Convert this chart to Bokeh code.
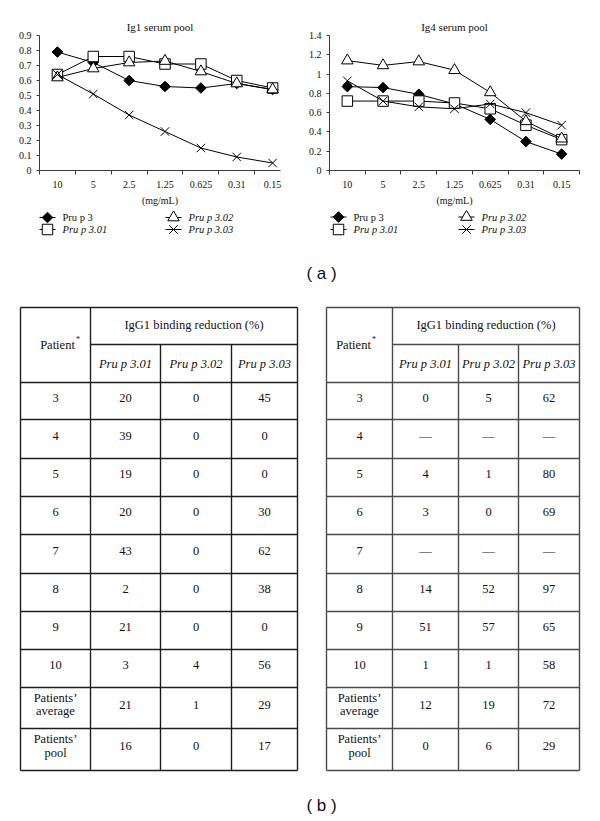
import numpy as np
from bokeh.plotting import figure
from bokeh.models import Range1d, FixedTicker
from bokeh.layouts import column, row
from bokeh.embed import file_html
from bokeh.resources import INLINE
from bokeh.core.properties import value

# ---------------- data ----------------
concentrations = ["10", "5", "2.5", "1.25", "0.625", "0.31", "0.15"]
series_names = ["Pru p 3", "Pru p 3.01", "Pru p 3.02", "Pru p 3.03"]

ig1_pru_p_3 = [0.79, 0.72, 0.60, 0.56, 0.55, 0.58, 0.54]
ig1_pru_p_3_01 = [0.64, 0.76, 0.76, 0.71, 0.71, 0.60, 0.55]
ig1_pru_p_3_02 = [0.62, 0.68, 0.72, 0.73, 0.66, 0.58, 0.54]
ig1_pru_p_3_03 = [0.64, 0.51, 0.37, 0.26, 0.15, 0.09, 0.05]

ig4_pru_p_3 = [0.87, 0.86, 0.79, 0.69, 0.53, 0.30, 0.17]
ig4_pru_p_3_01 = [0.72, 0.72, 0.72, 0.70, 0.64, 0.47, 0.32]
ig4_pru_p_3_02 = [1.14, 1.09, 1.13, 1.04, 0.81, 0.51, 0.33]
ig4_pru_p_3_03 = [0.93, 0.72, 0.66, 0.64, 0.69, 0.60, 0.47]

ig1_y_ticks = [0, 0.1, 0.2, 0.3, 0.4, 0.5, 0.6, 0.7, 0.8, 0.9]
ig1_y_labels = ["0", "0.1", "0.2", "0.3", "0.4", "0.5", "0.6", "0.7", "0.8", "0.9"]
ig4_y_ticks = [0, 0.2, 0.4, 0.6, 0.8, 1, 1.2, 1.4]
ig4_y_labels = ["0", "0.2", "0.4", "0.6", "0.8", "1", "1.2", "1.4"]

table_header = "IgG1 binding reduction (%)"
table_columns = ["Pru p 3.01", "Pru p 3.02", "Pru p 3.03"]
patients = ["3", "4", "5", "6", "7", "8", "9", "10",
            "Patients\u2019\naverage", "Patients\u2019\npool"]

left_pru_p_3_01 = [20, 39, 19, 20, 43, 2, 21, 3, 21, 16]
left_pru_p_3_02 = [0, 0, 0, 0, 0, 0, 0, 4, 1, 0]
left_pru_p_3_03 = [45, 0, 0, 30, 62, 38, 0, 56, 29, 17]

right_pru_p_3_01 = [0, None, 4, 3, None, 14, 51, 1, 12, 0]
right_pru_p_3_02 = [5, None, 1, 0, None, 52, 57, 1, 19, 6]
right_pru_p_3_03 = [62, None, 80, 69, None, 97, 65, 58, 72, 29]

# ---------------- style ----------------
SERIF = "Liberation Serif"
SANS = "Liberation Sans"
AX = "#3a3a3a"
TXT = "#111111"

marker_styles = [
    dict(marker="square", angle=np.pi / 4, size=7.5, fill_color="black", line_color="black"),
    dict(marker="square", size=10.5, fill_color="white", line_color="black"),
    dict(marker="triangle", size=11.5, fill_color="white", line_color="black"),
    dict(marker="x", size=12, fill_color=None, line_color="black"),
]
legend_italic = [False, True, True, True]


def blank_fig(width, height, x_end, y_top, y_bottom):
    f = figure(width=width, height=height, x_range=Range1d(0, x_end),
               y_range=Range1d(y_bottom, y_top),
               output_backend="svg", toolbar_location=None,
               x_axis_location=None, y_axis_location=None,
               min_border_left=0, min_border_right=0, min_border_top=0, min_border_bottom=0)
    f.outline_line_color = None
    f.xgrid.visible = False
    f.ygrid.visible = False
    return f


def make_chart(title, series, y_end, y_ticks, y_labels, x_end, width, borders):
    bl, br, bt, bb = borders
    p = figure(width=width, height=210, x_range=Range1d(0, x_end), y_range=Range1d(0, y_end),
               output_backend="svg", toolbar_location=None,
               min_border_left=bl, min_border_right=br, min_border_top=bt, min_border_bottom=bb)
    p.outline_line_color = None
    p.xgrid.visible = False
    p.ygrid.visible = False
    p.title.text = title
    p.title.align = "center"
    p.title.text_font = SERIF
    p.title.text_font_style = "normal"
    p.title.text_font_size = "11px"
    p.title.text_color = TXT
    p.title.standoff = 5

    xs = [i + 0.5 for i in range(len(concentrations))]
    p.xaxis.ticker = FixedTicker(ticks=xs, minor_ticks=list(range(len(concentrations) + 1)))
    p.xaxis.major_label_overrides = {x: c for x, c in zip(xs, concentrations)}
    p.xaxis.major_tick_out = 0
    p.xaxis.major_tick_in = 0
    p.xaxis.minor_tick_out = 4
    p.xaxis.minor_tick_in = 0
    p.xaxis.minor_tick_line_color = AX
    p.xaxis.major_label_standoff = 6
    p.xaxis.axis_label = "(mg/mL)"
    p.xaxis.axis_label_standoff = 4

    p.yaxis.ticker = FixedTicker(ticks=y_ticks)
    p.yaxis.major_label_overrides = {t: l for t, l in zip(y_ticks, y_labels)}
    p.yaxis.major_tick_out = 3
    p.yaxis.major_tick_in = 0
    p.yaxis.minor_tick_out = 0
    p.yaxis.minor_tick_in = 0
    p.yaxis.major_label_standoff = 5

    for ax in (p.xaxis, p.yaxis):
        ax.axis_line_color = AX
        ax.major_tick_line_color = AX
        ax.major_label_text_font = SERIF
        ax.major_label_text_font_size = "10px"
        ax.major_label_text_color = TXT
        ax.axis_label_text_font = SERIF
        ax.axis_label_text_font_size = "10px"
        ax.axis_label_text_font_style = "normal"
        ax.axis_label_text_color = TXT

    for k, ys in enumerate(series):
        p.line(xs, ys, line_color="black", line_width=1)
        p.scatter(xs, ys, line_width=1, **marker_styles[k])
    return p


def make_legend(width, slots):
    # slots: (x, y) pixel centre of each legend swatch, in the legend strip
    f = blank_fig(width, 40, width, 0, 40)
    for k, name in enumerate(series_names):
        cx, cy = slots[k]
        f.segment(x0=[cx - 8], y0=[cy], x1=[cx + 8], y1=[cy], line_color="black", line_width=1)
        f.scatter([cx], [cy], line_width=1, **marker_styles[k])
        f.text(x=[cx + 15], y=[cy], text=[name], text_font=value(SERIF), text_font_size="10.5px",
               text_font_style="italic" if legend_italic[k] else "normal",
               text_color=TXT, text_align="left", text_baseline="middle")
    return f


p1 = make_chart("Ig1 serum pool",
                [ig1_pru_p_3, ig1_pru_p_3_01, ig1_pru_p_3_02, ig1_pru_p_3_03],
                0.9, ig1_y_ticks, ig1_y_labels, 6.72, 300, (39, 20, 34, 40))
p2 = make_chart("Ig4 serum pool",
                [ig4_pru_p_3, ig4_pru_p_3_01, ig4_pru_p_3_02, ig4_pru_p_3_03],
                1.4, ig4_y_ticks, ig4_y_labels, 7.0, 292, (29, 13, 35, 40))

l1 = make_legend(300, [(47, 7), (47, 19), (173, 7), (173, 19)])
l2 = make_legend(292, [(38, 6.5), (38, 19), (166, 6.5), (166, 19)])

# ---------------- tables ----------------
pt = blank_fig(592, 571, 592, 250, 821)

HDR_TOP, HDR_MID = 307, 344
ROW_EDGES = [382, 419, 458, 496, 534, 573, 611, 649, 687, 728, 770]
FS = "12.5px"


def draw_table(cols, vals, line_color, patient_dx):
    x0, x1, x2, x3, x4 = cols
    bottom = ROW_EDGES[-1]
    hx0 = [x0, x1] + [x0] * len(ROW_EDGES)
    hx1 = [x4, x4] + [x4] * len(ROW_EDGES)
    hy = [HDR_TOP, HDR_MID] + ROW_EDGES
    pt.segment(x0=hx0, y0=hy, x1=hx1, y1=hy, line_color=line_color, line_width=1.4)
    vx = [x0, x1, x2, x3, x4]
    vy0 = [HDR_TOP, HDR_TOP, HDR_MID, HDR_MID, HDR_TOP]
    pt.segment(x0=vx, y0=vy0, x1=vx, y1=[bottom] * 5, line_color=line_color, line_width=1.4)

    centers = [(cols[i] + cols[i + 1]) / 2 for i in range(4)]
    common = dict(text_font=value(SERIF), text_font_size=FS, text_color=TXT,
                  text_align="center", text_baseline="middle")
    pt.text(x=[(x1 + x4) / 2], y=[(HDR_TOP + HDR_MID) / 2 - 1], text=[table_header], **common)
    pt.text(x=[centers[0] + patient_dx], y=[(HDR_TOP + ROW_EDGES[0]) / 2], text=["Patient"], **common)
    pt.text(x=[centers[0] + patient_dx + 18.5], y=[339], text=["*"],
            text_font=value(SERIF), text_font_size="8px", text_color=TXT,
            text_align="left", text_baseline="middle")
    pt.text(x=centers[1:], y=[(HDR_MID + ROW_EDGES[0]) / 2] * 3, text=table_columns,
            text_font_style="italic", **common)

    row_c = [(ROW_EDGES[i] + ROW_EDGES[i + 1]) / 2 - 3.5 for i in range(len(patients))]
    pt.text(x=[centers[0]] * len(patients), y=row_c, text=patients,
            text_line_height=0.95, **common)
    for j, col in enumerate(vals):
        txt = ["\u2014" if v is None else str(v) for v in col]
        pt.text(x=[centers[j + 1]] * len(col), y=row_c, text=txt, **common)


draw_table([20, 90, 160, 231, 297], [left_pru_p_3_01, left_pru_p_3_02, left_pru_p_3_03], "#1e1e1e", 2)
draw_table([326, 392, 458, 518, 579], [right_pru_p_3_01, right_pru_p_3_02, right_pru_p_3_03], "#4a4a4a", -6)

pt.text(x=[321, 321], y=[273, 805], text=["( a )", "( b )"], text_font=value(SANS),
        text_font_size="17px", text_color=TXT, text_align="center", text_baseline="middle")

layout = column(row(p1, p2), row(l1, l2), pt)
open("out.html", "w").write(file_html(layout, INLINE))
